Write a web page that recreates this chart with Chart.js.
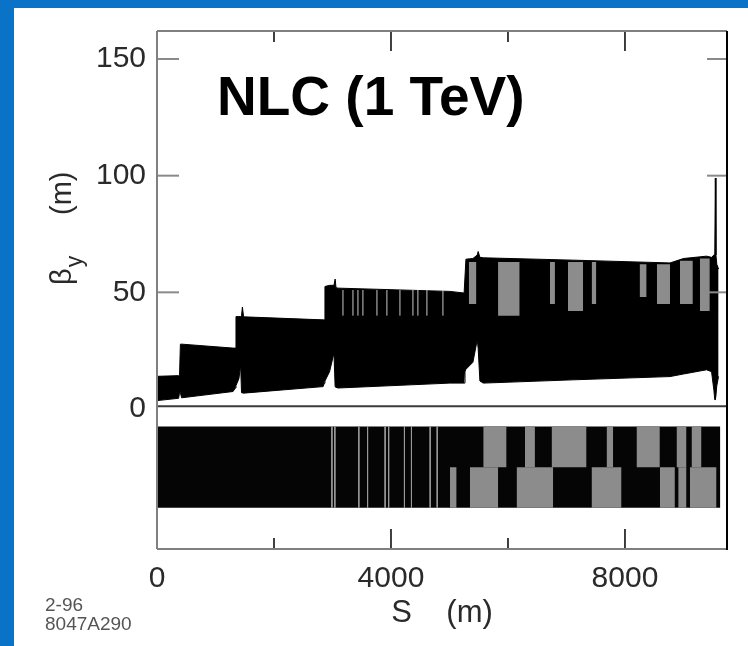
<!DOCTYPE html>
<html><head><meta charset="utf-8">
<script src="https://cdn.jsdelivr.net/npm/chart.js@4/dist/chart.umd.min.js"></script>
<style>
html,body{margin:0;padding:0;}
body{width:748px;height:646px;background:#0a73c7;position:relative;overflow:hidden;}
#panel{position:absolute;left:14px;top:8px;right:0;bottom:0;background:#fff;}
#wrap{position:absolute;left:0;top:0;width:748px;height:646px;}
</style></head><body>
<div id="panel"></div>
<div id="wrap"><canvas id="c" width="748" height="646"></canvas></div>
<script>
// ---- data ----
const sPos    = [0,370,385,393,400,420, 1300,1340,1350,1400,1430,1445,1460,1480, 2840,2860,2871,2950,3025,3045,3060,3094, 5007,5250,5265,5281,5400,5475,5490,5520,5577, 7110,8770,9000,9394,9480, 9520,9535,9545,9555,9570,9600];
const betaMax = [14.0,14.3,14.3,14.3,27.8,27.8, 26.1,26.1,39.6,39.6,39.6,40,43.7,39.5, 38.2,38.2,52.5,53,53,55.7,52,51.8, 50.4,49.7,49.7,64.2,64.5,66,67.5,65,64.8, 63.8,62.6,64.5,65.5,65, 66,66,99,66,62,60];
const betaMin = [3.6,4.6,7.5,7.5,7.0,4.8, 7.5,9.0,10,13,18.9,7.0,6.9,6.8, 9.6,11,12,16,24,9.5,9.3,9.0, 11.1,11.1,16,17,20,29.7,26,12,11.1, 12.5,13.9,15,16.8,16, 8,4,4,4,10,14];

// grey stripes inside the beta envelope: [sStart, sEnd, low, high]
const envGray = [[5330,5460,45,63],[5830,6200,40,63],[6717,6802,45,63],[7025,7285,42,63],[7430,7510,45,63],[8250,8370,48,62],[8545,8770,45,62],[8940,9160,45,63.5],[9280,9450,42,64.5]];
// thin light lines inside the envelope
const envThinLines = [3179,3350,3435,3520,3760,3930,4153,4375,4460,4614,4888];
const envThinRange = [40, 51];

// magnet lattice band
const latticeTop = -7.5, latticeMid = -25, latticeBottom = -42.3;
const latticeStart = 0, latticeEnd = 9630;
const latticeUpperGray = [[5577,5976],[6289,6460],[6745,7343],[7685,7799],[8197,8596],[8881,9052],[9137,9308]];
const latticeLowerGray = [[5008,5122],[5349,5833],[6147,6773],[7428,7941],[8596,8853],[8910,9052],[9109,9565]];
const latticeThinLines = [2990,3040,3450,3600,3900,3960,4230,4350,4670,4790];

const baseLineY = 1.2;
const xMin = 0, xMax = 9744, yMin = -60, yMax = 162;
const xTicks = [0,2000,4000,6000,8000];
const xLabelled = [0,4000,8000];
const yTicks = [0,50,100,150];

// ---- datasets ----
const GRAY = '#8c8c8c';
const ds = [];
ds.push({data: sPos.map((s,i)=>({x:s,y:betaMax[i]})), borderColor:'#000', borderWidth:1, backgroundColor:'#000', fill:'+1', order:30});
ds.push({data: sPos.map((s,i)=>({x:s,y:betaMin[i]})), borderColor:'#000', borderWidth:1, fill:false, order:30});
envGray.forEach(g=>ds.push({data:[{x:g[0],y:g[3]},{x:g[1],y:g[3]}], borderWidth:0, borderColor:'rgba(0,0,0,0)', backgroundColor:GRAY, fill:{value:g[2]}, order:20}));
envThinLines.forEach(s=>ds.push({data:[{x:s,y:envThinRange[0]},{x:s,y:envThinRange[1]}], borderWidth:1, borderColor:'#c8c8c8', fill:false, order:15}));
ds.push({data:[{x:latticeStart,y:latticeTop},{x:latticeEnd,y:latticeTop}], borderWidth:0, borderColor:'rgba(0,0,0,0)', backgroundColor:'#050505', fill:{value:latticeBottom}, order:30});
latticeUpperGray.forEach(g=>ds.push({data:[{x:g[0],y:latticeTop},{x:g[1],y:latticeTop}], borderWidth:0, borderColor:'rgba(0,0,0,0)', backgroundColor:GRAY, fill:{value:latticeMid}, order:20}));
latticeLowerGray.forEach(g=>ds.push({data:[{x:g[0],y:latticeMid},{x:g[1],y:latticeMid}], borderWidth:0, borderColor:'rgba(0,0,0,0)', backgroundColor:GRAY, fill:{value:latticeBottom}, order:20}));
latticeThinLines.forEach(s=>ds.push({data:[{x:s,y:latticeTop},{x:s,y:latticeBottom}], borderWidth:1, borderColor:'#9a9a9a', fill:false, order:15}));
ds.push({data:[{x:xMin,y:baseLineY},{x:xMax,y:baseLineY}], borderWidth:2, borderColor:'#3a3a3a', fill:false, order:1});

// ---- decoration plugin: inward ticks, frame, titles ----
const decor = {
  id:'decor',
  afterDraw(chart){
    const {ctx, chartArea:a, scales:{x,y}} = chart;
    const ln=(x1,y1,x2,y2)=>{ctx.beginPath();ctx.moveTo(x1,y1);ctx.lineTo(x2,y2);ctx.stroke();};
    ctx.save();
    // y ticks (grey)
    ctx.strokeStyle='#8a8a8a'; ctx.lineWidth=2;
    [50,100,150].forEach(v=>{const p=y.getPixelForValue(v); ln(a.left,p,a.left+22,p); ln(a.right,p,a.right-20,p);});
    // x ticks (black)
    ctx.strokeStyle='#000'; ctx.lineWidth=1.5;
    xTicks.slice(1).forEach(v=>{const p=x.getPixelForValue(v); const L = xLabelled.includes(v)?20:11; ln(p,a.top,p,a.top+L); ln(p,a.bottom,p,a.bottom-L);});
    // frame
    ctx.lineWidth=2; ctx.strokeStyle='#808080';
    ln(a.left,a.top,a.right,a.top); ln(a.left,a.top,a.left,a.bottom); ln(a.left,a.bottom,a.right,a.bottom);
    ctx.strokeStyle='#000'; ln(a.right,a.top,a.right,a.bottom+1);
    // chart title
    ctx.fillStyle='#000'; ctx.font='bold 55px "Liberation Sans", Arial, sans-serif';
    ctx.textBaseline='alphabetic'; ctx.textAlign='left';
    ctx.fillText('NLC (1 TeV)', 217, 115);
    // y-axis title with subscript
    ctx.fillStyle='#2a2a2a';
    ctx.translate(71, 285); ctx.rotate(-Math.PI/2);
    ctx.font='29px "Liberation Sans", Arial, sans-serif';
    ctx.fillText('\u03B2', 0, 0);
    const wb = ctx.measureText('\u03B2').width;
    ctx.font='23px "Liberation Sans", Arial, sans-serif';
    ctx.fillText('y', wb+1, 11);
    ctx.font='29px "Liberation Sans", Arial, sans-serif';
    ctx.fillText('(m)', 70, 0);
    ctx.restore();
    // figure id
    ctx.save();
    ctx.fillStyle='#555'; ctx.font='19px "Liberation Sans", Arial, sans-serif';
    ctx.textAlign='left'; ctx.textBaseline='alphabetic';
    ctx.fillText('2-96', 45, 611);
    ctx.fillText('8047A290', 45, 630);
    ctx.restore();
  }
};

const tickFont = {family:'"Liberation Sans", Arial, sans-serif', size:30};
const titleFont = {family:'"Liberation Sans", Arial, sans-serif', size:31};
new Chart(document.getElementById('c'), {
  type:'line',
  data:{datasets:ds},
  plugins:[decor],
  options:{
    responsive:false, animation:false, devicePixelRatio:1,
    layout:{padding:{left:0,top:31,right:21,bottom:0}},
    elements:{point:{radius:0}, line:{tension:0}},
    plugins:{legend:{display:false}, tooltip:{enabled:false}},
    scales:{
      x:{type:'linear', min:xMin, max:xMax,
        afterBuildTicks:s=>{s.ticks = xTicks.map(v=>({value:v}));},
        afterFit:s=>{s.height=97;},
        ticks:{autoSkip:false, maxRotation:0, padding:12, color:'#2a2a2a', font:tickFont,
          callback:v=>xLabelled.includes(v)?String(v):''},
        grid:{display:false, drawTicks:false}, border:{display:false},
        title:{display:true, text:'S    (m)', color:'#2a2a2a', font:titleFont, padding:{top:0,bottom:14}}
      },
      y:{type:'linear', min:yMin, max:yMax,
        afterBuildTicks:s=>{s.ticks = yTicks.map(v=>({value:v}));},
        afterFit:s=>{s.width=157;},
        ticks:{padding:11, color:'#2a2a2a', font:tickFont, callback:v=>String(v)},
        grid:{display:false, drawTicks:false}, border:{display:false}
      }
    }
  }
});
</script>
</body></html>
